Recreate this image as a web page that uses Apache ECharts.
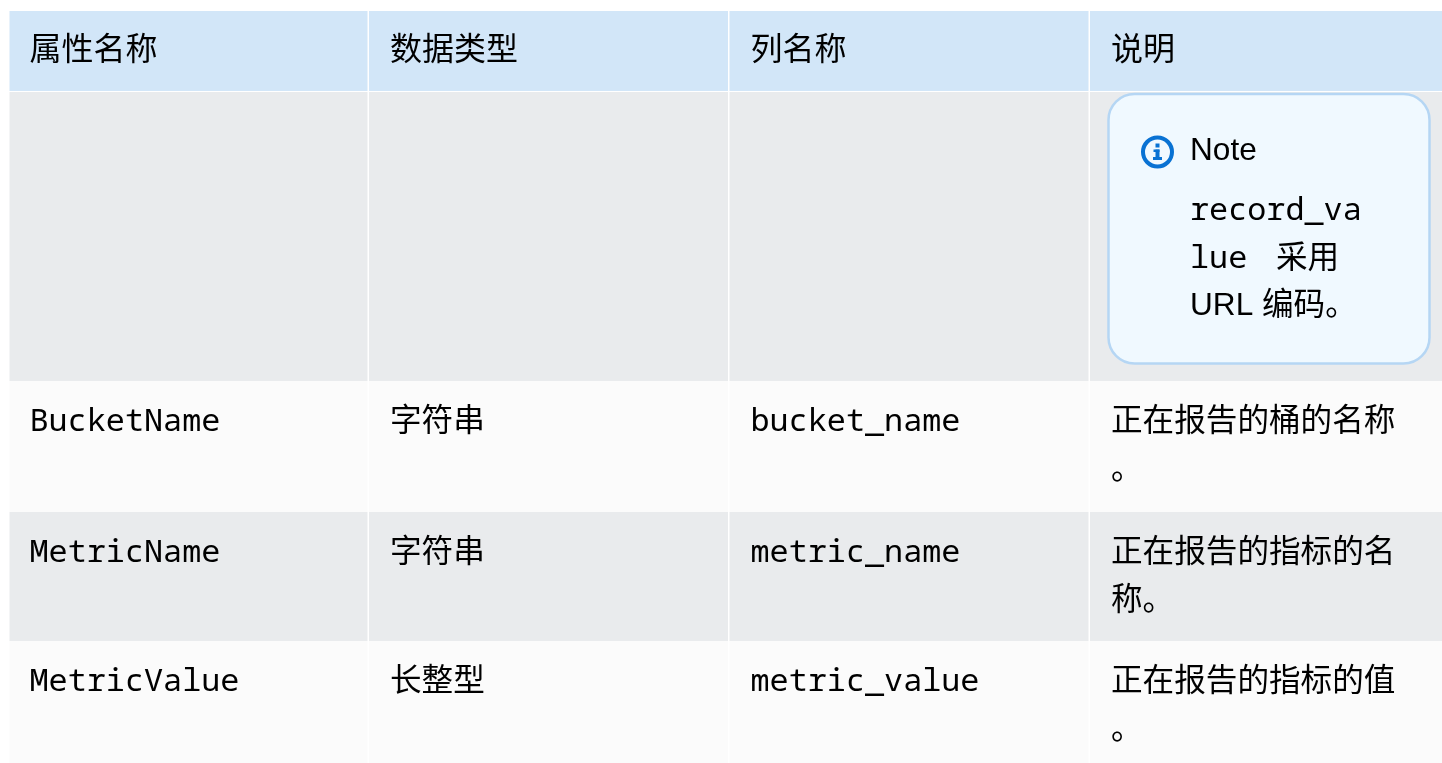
<!DOCTYPE html>
<html><head><meta charset="utf-8">
<style>html,body{margin:0;padding:0;background:#fff}#c{width:1442px;height:763px}</style>
<script src="https://cdn.jsdelivr.net/npm/echarts@6/dist/echarts.min.js"></script>
</head><body><div id="c"></div>
<script>
// table content
const headers = ['属性名称', '数据类型', '列名称', '说明'];
const propertyNames = ['', 'BucketName', 'MetricName', 'MetricValue'];
const dataTypes = ['', '字符串', '字符串', '长整型'];
const columnNames = ['', 'bucket_name', 'metric_name', 'metric_value'];
const descriptions = ['', '正在报告的桶的名称\n。', '正在报告的指标的名\n称。', '正在报告的指标的值\n。'];
const noteTitle = 'Note';
const noteCode = ['record_va', 'lue'];
const noteWord = '采用';
const noteText = 'URL 编码。';

// layout of the table on the axes (units = px of the 1442x763 canvas)
const colEdges = [9.5, 369, 729.5, 1090, 1442];
const rowEdges = [11, 92, 381, 512, 641, 763];
const GAP = 1.5;

const SANS = '"Noto Sans CJK SC","Liberation Sans",sans-serif';
const LATIN = '"Liberation Sans","Noto Sans CJK SC",sans-serif';
const MONO = '"Noto Sans Mono","DejaVu Sans Mono","Noto Sans CJK SC",monospace';
const BLACK = '#000000';
const FS = 31.6, HFS = 32, MFS = 31.8, PITCH = 48;

const columns = [propertyNames, dataTypes, columnNames, descriptions];
const isMono = [true, false, true, false];
const cells = [];
headers.forEach((h, c) => cells.push([c, 0, h, 0]));
columns.forEach((col, c) => col.forEach((t, r) => cells.push([c, r + 1, t, isMono[c] ? 1 : 0])));

function cellItem(params, api) {
  const c = api.value(0), r = api.value(1);
  const text = cells[params.dataIndex][2], mono = cells[params.dataIndex][3];
  const p0 = api.coord([colEdges[c], rowEdges[r]]);
  const p1 = api.coord([colEdges[c + 1], rowEdges[r + 1]]);
  const fill = r === 0 ? '#d2e6f8' : (r % 2 === 0 ? '#fbfbfb' : '#e9ebed');
  const kids = [{
    type: 'rect', silent: true,
    shape: {x: p0[0], y: p0[1], width: p1[0] - p0[0] - (c < 3 ? GAP : 0), height: p1[1] - p0[1] - (r === 0 ? 1 : 0)},
    style: {fill}
  }];
  const textX = api.coord([colEdges[c] + (c === 0 ? 20 : 21), 0])[0];
  const firstY = p0[1] + (r === 0 ? 37 : mono ? 40.5 : 38);
  const size = r === 0 ? HFS : mono ? MFS : FS;
  String(text).split('\n').forEach((line, i) => {
    if (!line) return;
    kids.push({
      type: 'text', silent: true, z2: 2,
      x: textX, y: firstY + i * PITCH,
      style: {text: line, fill: BLACK, font: size + 'px ' + (mono ? MONO : SANS), textAlign: 'left', textVerticalAlign: 'middle'}
    });
  });
  return {type: 'group', children: kids};
}

function noteItem(params, api) {
  const a = api.coord([1108.5, 94]), b = api.coord([1429.5, 363.5]);
  const ic = api.coord([1157.5, 152]);
  const tx = (t, x, y, font, size) => ({type: 'text', silent: true, x, y: api.coord([0, y])[1],
    style: {text: t, fill: BLACK, font: size + 'px ' + font, textAlign: 'left', textVerticalAlign: 'middle'}});
  const block = (x0, y0, w, h) => ({type: 'rect', silent: true, shape: {x: ic[0] + x0, y: ic[1] + y0, width: w, height: h}, style: {fill: '#0972d3'}});
  const kids = [
    {type: 'rect', silent: true, shape: {x: a[0], y: a[1], width: b[0] - a[0], height: b[1] - a[1], r: 26},
      style: {fill: '#f0f9ff', stroke: '#b5d6f4', lineWidth: 2.5}},
    {type: 'circle', silent: true, shape: {cx: ic[0], cy: ic[1], r: 14.5},
      style: {fill: '#f0f9ff', stroke: '#0972d3', lineWidth: 4}},
    block(-2, -8.5, 4, 4),
    block(-4, -2.5, 6, 2.5),
    block(-2, -2.5, 4, 10),
    block(-4.5, 5, 9, 3),
    tx(noteTitle, 1190, 151, LATIN, FS),
    tx(noteCode[0], 1190, 211, MONO, MFS),
    tx(noteCode[1], 1190, 258.5, MONO, MFS),
    tx(noteWord, 1276, 256, SANS, FS),
    tx(noteText, 1190, 306, LATIN, FS)
  ];
  return {type: 'group', children: kids};
}

const chart = echarts.init(document.getElementById('c'), null, {renderer: 'canvas'});
chart.setOption({
  animation: false,
  backgroundColor: '#ffffff',
  tooltip: {show: false},
  grid: {left: 0, right: 0, top: 0, bottom: 0},
  xAxis: {type: 'value', min: 0, max: 1442, show: false},
  yAxis: {type: 'value', min: 0, max: 763, inverse: true, show: false},
  series: [
    {type: 'custom', coordinateSystem: 'cartesian2d', clip: false, z: 1,
     data: cells.map(d => [d[0], d[1]]), encode: {x: 0, y: 1}, renderItem: cellItem},
    {type: 'custom', coordinateSystem: 'cartesian2d', clip: false, z: 2,
     data: [[1108, 94]], encode: {x: 0, y: 1}, renderItem: noteItem}
  ]
});
</script></body></html>
